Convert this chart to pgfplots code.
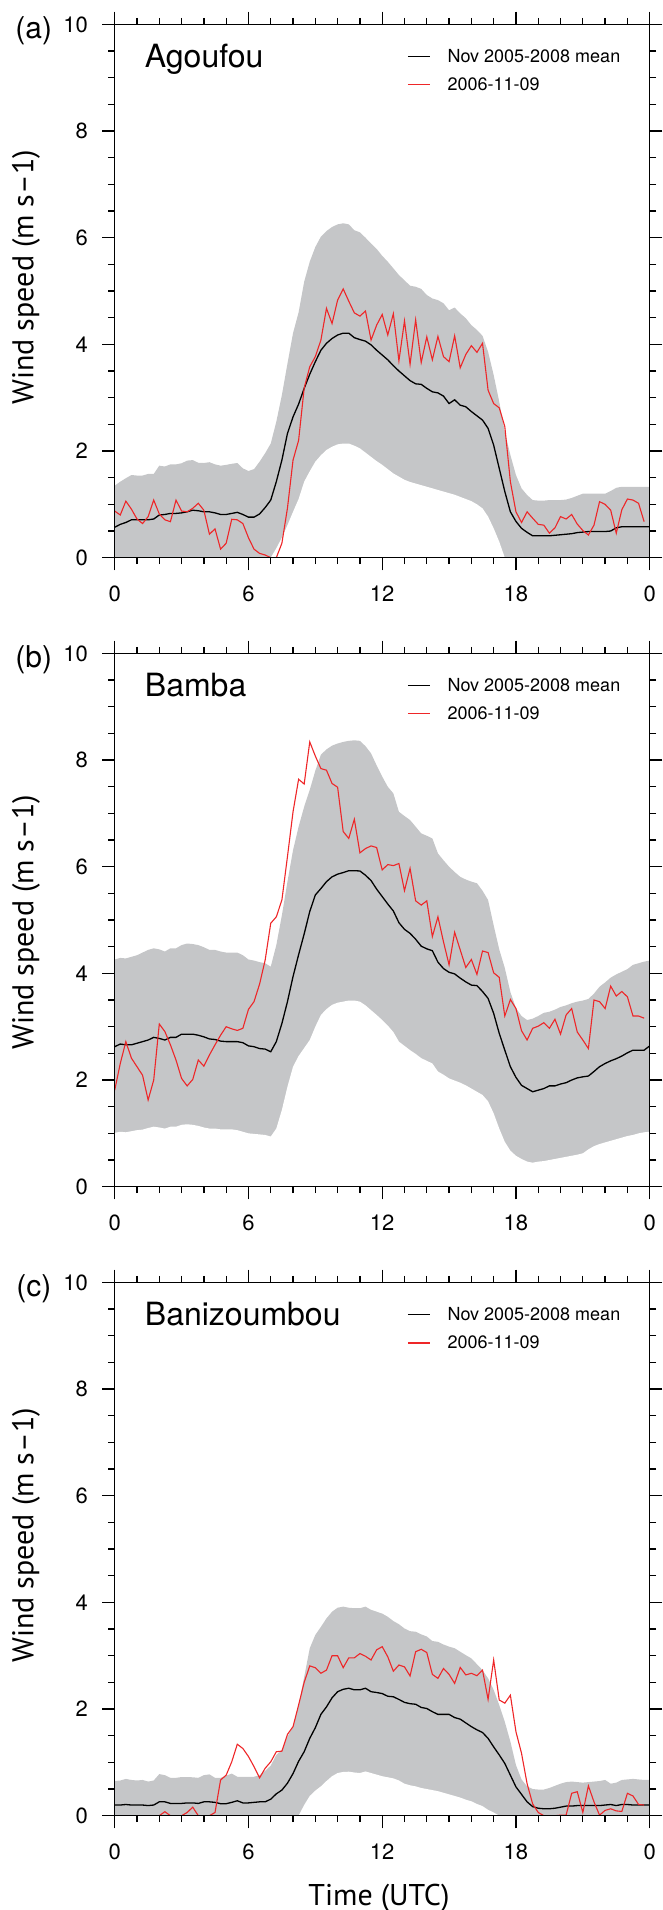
\documentclass[border=0pt]{standalone}
\usepackage{fontspec}
\setmainfont{TeX Gyre Heros}
\newfontfamily\labelfont{PT Sans}
\usepackage{pgfplots}
\pgfplotsset{compat=1.18}
\usepackage{pgfplotstable}
\definecolor{shade}{RGB}{197,198,200}
\definecolor{obsred}{RGB}{238,38,40}

\pgfplotstableread{
t up lo mean obs
0 1.35 0 0.57 0.875
0.25 1.425 0 0.625 0.80
0.5 1.49 0 0.66 1.06
0.75 1.55 0 0.71 0.91
1 1.54 0 0.71 0.725
1.25 1.54 0 0.71 0.64
1.5 1.57 0 0.71 0.77
1.75 1.57 0 0.725 1.08
2 1.725 0 0.80 0.82
2.25 1.71 0 0.81 0.71
2.5 1.75 0 0.83 0.675
2.75 1.75 0 0.83 1.08
3 1.77 0 0.84 0.875
3.25 1.82 0 0.86 0.86
3.5 1.83 0 0.89 0.925
3.75 1.78 0 0.88 1.02
4 1.775 0 0.86 0.89
4.25 1.79 0 0.86 0.44
4.5 1.75 0 0.84 0.54
4.75 1.725 0 0.81 0.16
5 1.74 0 0.81 0.27
5.25 1.76 0 0.83 0.72
5.5 1.775 0 0.85 0.71
5.75 1.675 0 0.81 0.64
6 1.625 0 0.76 0.375
6.25 1.66 0 0.76 0.16
6.5 1.8 0 0.82 0.08
6.75 1.96 0 0.94 0.05
7 2.14 0 1.08 0.0
7.25 2.55 0.175 1.425 0.0
7.5 3.05 0.375 1.83 0.27
7.75 3.64 0.61 2.33 0.93
8 4.21 0.86 2.64 1.83
8.25 4.6 1.1 2.88 2.2
8.5 5.175 1.425 3.175 3.18
8.75 5.55 1.62 3.44 3.58
9 5.825 1.8 3.675 3.77
9.25 6.02 1.92 3.89 4.08
9.5 6.125 2.02 4.02 4.675
9.75 6.2 2.08 4.11 4.39
10 6.25 2.125 4.175 4.83
10.25 6.27 2.14 4.21 5.04
10.5 6.25 2.14 4.21 4.81
10.75 6.14 2.1 4.125 4.59
11 6.1 2.05 4.09 4.53
11.25 6.0 1.97 4.06 4.625
11.5 5.89 1.89 3.99 4.08
11.75 5.79 1.81 3.89 4.36
12 5.66 1.74 3.8 4.56
12.25 5.55 1.66 3.71 4.175
12.5 5.425 1.58 3.6 4.575
12.75 5.3 1.52 3.5 3.69
13 5.2 1.46 3.41 4.44
13.25 5.1 1.42 3.32 3.625
13.5 5.08 1.39 3.26 4.46
13.75 5.04 1.36 3.25 3.66
14 4.925 1.33 3.175 4.14
14.25 4.86 1.3 3.11 3.71
14.5 4.83 1.27 3.09 4.15
14.75 4.77 1.24 3.03 3.77
15 4.64 1.21 2.89 3.675
15.25 4.69 1.18 2.96 4.16
15.5 4.58 1.14 2.86 3.56
15.75 4.49 1.1 2.83 3.81
16 4.36 1.06 2.74 3.975
16.25 4.27 1.0 2.66 3.85
16.5 4.16 0.925 2.58 4.02
16.75 3.86 0.77 2.425 3.14
17 3.425 0.55 2.11 2.89
17.25 2.925 0.3 1.675 2.81
17.5 2.36 0 1.24 2.46
17.75 1.925 0 0.86 1.425
18 1.55 0 0.68 0.86
18.25 1.3 0 0.55 0.66
18.5 1.175 0 0.475 0.86
18.75 1.08 0 0.41 0.74
19 1.07 0 0.41 0.625
19.25 1.07 0 0.41 0.61
19.5 1.08 0 0.41 0.46
19.75 1.08 0 0.42 0.56
20 1.08 0 0.43 0.77
20.25 1.09 0 0.44 0.725
20.5 1.12 0 0.45 0.81
20.75 1.16 0 0.47 0.63
21 1.2 0 0.48 0.51
21.25 1.2 0 0.49 0.425
21.5 1.2 0 0.49 0.61
21.75 1.2 0 0.49 1.05
22 1.2 0 0.49 1.0
22.25 1.25 0 0.5 0.89
22.5 1.31 0 0.56 0.46
22.75 1.33 0 0.58 0.9
23 1.33 0 0.58 1.1
23.25 1.33 0 0.58 1.08
23.5 1.33 0 0.58 1.02
23.75 1.33 0 0.58 0.675
24 1.33 0 0.58 0.675
}\tA

\pgfplotstableread{
t up lo mean obs
0 4.26 1.01 2.625 1.81
0.25 4.29 1.03 2.675 2.31
0.5 4.28 1.02 2.66 2.72
0.75 4.31 1.04 2.66 2.41
1 4.34 1.06 2.69 2.25
1.25 4.39 1.07 2.72 2.09
1.5 4.44 1.1 2.75 1.625
1.75 4.47 1.125 2.8 2.0
2 4.45 1.11 2.78 3.05
2.25 4.41 1.09 2.75 2.91
2.5 4.47 1.125 2.8 2.66
2.75 4.47 1.125 2.8 2.375
3 4.53 1.16 2.86 2.03
3.25 4.56 1.17 2.86 1.89
3.5 4.55 1.16 2.86 2.01
3.75 4.53 1.14 2.84 2.375
4 4.49 1.11 2.81 2.26
4.25 4.44 1.09 2.77 2.47
4.5 4.44 1.09 2.76 2.66
4.75 4.41 1.075 2.73 2.84
5 4.39 1.075 2.72 3.0
5.25 4.39 1.075 2.72 2.96
5.5 4.39 1.06 2.72 2.93
5.75 4.34 1.03 2.7 2.97
6 4.26 1.0 2.64 3.325
6.25 4.24 0.99 2.625 3.47
6.5 4.21 0.98 2.59 3.8
6.75 4.19 0.97 2.58 4.25
7 4.125 0.94 2.53 4.94
7.25 4.53 1.09 2.72 5.06
7.5 5.09 1.44 3.06 5.375
7.75 5.72 1.875 3.47 6.19
8 6.31 2.25 3.94 7.03
8.25 6.75 2.45 4.35 7.64
8.5 7.125 2.6 4.74 7.55
8.75 7.44 2.75 5.16 8.34
9 7.8 3.0 5.47 8.075
9.25 8.1 3.22 5.59 7.84
9.5 8.2 3.33 5.72 7.81
9.75 8.27 3.41 5.81 7.56
10 8.31 3.45 5.86 7.49
10.25 8.34 3.47 5.89 6.66
10.5 8.36 3.49 5.925 6.53
10.75 8.37 3.49 5.925 6.89
11 8.36 3.47 5.92 6.26
11.25 8.26 3.4 5.84 6.34
11.5 8.125 3.31 5.74 6.39
11.75 7.9 3.22 5.58 6.36
12 7.69 3.125 5.44 5.94
12.25 7.5 3.02 5.3 6.04
12.5 7.375 2.9 5.17 6.02
12.75 7.03 2.72 4.95 6.06
13 6.95 2.64 4.825 5.55
13.25 6.875 2.56 4.75 5.97
13.5 6.75 2.49 4.64 5.36
13.75 6.625 2.41 4.51 5.28
14 6.58 2.36 4.46 5.36
14.25 6.53 2.31 4.425 4.69
14.5 6.25 2.16 4.21 5.06
14.75 6.12 2.1 4.09 4.59
15 6.0 2.03 4.02 4.16
15.25 5.9 1.99 3.99 4.77
15.5 5.81 1.95 3.91 4.44
15.75 5.76 1.9 3.84 4.11
16 5.72 1.84 3.78 4.26
16.25 5.69 1.78 3.77 3.98
16.5 5.55 1.72 3.66 4.42
16.75 5.375 1.6 3.53 4.39
17 4.9 1.375 3.25 4.01
17.25 4.45 1.09 2.875 3.925
17.5 4.1 0.84 2.56 3.2
17.75 3.65 0.675 2.25 3.51
18 3.35 0.58 2.05 3.34
18.25 3.2 0.52 1.9 2.925
18.5 3.125 0.47 1.84 2.75
18.75 3.15 0.45 1.78 2.97
19 3.2 0.47 1.81 3.01
19.25 3.26 0.48 1.84 3.075
19.5 3.28 0.5 1.89 2.97
19.75 3.32 0.52 1.89 3.14
20 3.37 0.54 1.925 2.86
20.25 3.4 0.56 1.95 3.22
20.5 3.44 0.58 2.0 3.34
20.75 3.47 0.6 2.04 2.9
21 3.49 0.625 2.06 2.75
21.25 3.52 0.7 2.075 2.59
21.5 3.62 0.76 2.16 3.5
21.75 3.75 0.8 2.25 3.47
22 3.83 0.83 2.31 3.34
22.25 3.92 0.86 2.36 3.76
22.5 3.98 0.89 2.4 3.575
22.75 4.03 0.92 2.45 3.66
23 4.08 0.95 2.51 3.56
23.25 4.16 0.97 2.56 3.2
23.5 4.19 1.0 2.56 3.2
23.75 4.22 1.02 2.56 3.16
24 4.24 1.03 2.64 3.16
}\tB

\pgfplotstableread{
t up lo mean obs
0 0.65 0 0.2 0
0.25 0.66 0 0.2 0
0.5 0.69 0 0.21 0
0.75 0.67 0 0.2 0
1 0.66 0 0.2 0
1.25 0.67 0 0.2 0
1.5 0.64 0 0.19 0
1.75 0.66 0 0.2 0
2 0.78 0 0.26 0
2.25 0.76 0 0.26 0.075
2.5 0.71 0 0.23 0
2.75 0.71 0 0.23 0
3 0.725 0 0.23 0
3.25 0.725 0 0.24 0.06
3.5 0.72 0 0.24 0.16
3.75 0.71 0 0.23 0
4 0.76 0 0.26 0
4.25 0.775 0 0.26 0
4.5 0.71 0 0.25 0.06
4.75 0.71 0 0.225 0.67
5 0.75 0 0.225 0.76
5.25 0.79 0 0.25 1.01
5.5 0.73 0 0.28 1.34
5.75 0.73 0 0.24 1.26
6 0.73 0 0.24 1.11
6.25 0.73 0 0.25 0.92
6.5 0.76 0 0.26 0.71
6.75 0.84 0 0.26 0.89
7 0.94 0 0.31 1.01
7.25 1.14 0 0.41 1.2
7.5 1.23 0 0.48 1.21
7.75 1.48 0 0.61 1.525
8 1.67 0 0.79 1.67
8.25 2.075 0 1.02 2.075
8.5 2.6 0.2 1.2 2.5
8.75 3.14 0.37 1.45 2.81
9 3.39 0.47 1.65 2.775
9.25 3.54 0.55 1.9 2.67
9.5 3.7 0.65 2.04 2.73
9.75 3.825 0.74 2.21 3.0
10 3.9 0.8 2.325 3.0
10.25 3.92 0.82 2.37 2.775
10.5 3.9 0.825 2.39 2.96
10.75 3.89 0.81 2.36 2.96
11 3.89 0.8 2.36 3.04
11.25 3.92 0.83 2.39 2.99
11.5 3.86 0.8 2.325 2.92
11.75 3.825 0.77 2.31 3.11
12 3.79 0.74 2.29 3.17
12.25 3.73 0.72 2.24 2.98
12.5 3.65 0.7 2.23 2.71
12.75 3.59 0.66 2.18 2.825
13 3.51 0.6 2.125 2.79
13.25 3.46 0.57 2.1 2.62
13.5 3.45 0.55 2.09 3.075
13.75 3.4 0.52 2.03 3.12
14 3.36 0.5 2.01 3.06
14.25 3.275 0.48 1.95 2.65
14.5 3.26 0.46 1.9 2.575
14.75 3.21 0.43 1.9 2.76
15 3.17 0.4 1.9 2.65
15.25 3.14 0.37 1.84 2.48
15.5 3.075 0.34 1.81 2.78
15.75 3.01 0.3 1.74 2.64
16 2.95 0.27 1.67 2.67
16.25 2.84 0.22 1.61 2.625
16.5 2.73 0.18 1.56 2.73
16.75 2.575 0.11 1.45 2.18
17 2.36 0.06 1.29 2.92
17.25 2.075 0 1.14 2.17
17.5 1.76 0 0.98 2.11
17.75 1.39 0 0.76 2.26
18 0.95 0 0.54 1.575
18.25 0.68 0 0.4 1.17
18.5 0.55 0 0.26 0.6
18.75 0.5 0 0.17 0.22
19 0.49 0 0.14 0.06
19.25 0.49 0 0.13 0
19.5 0.52 0 0.13 0
19.75 0.56 0 0.14 0
20 0.6 0 0.16 0.01
20.25 0.63 0 0.18 0.01
20.5 0.64 0 0.18 0.42
20.75 0.63 0 0.19 0.45
21 0.62 0 0.19 0.06
21.25 0.63 0 0.19 0.56
21.5 0.64 0 0.19 0.26
21.75 0.65 0 0.19 0.01
22 0.67 0 0.2 0.1
22.25 0.6 0 0.21 0.13
22.5 0.62 0 0.19 0.09
22.75 0.67 0 0.21 0.08
23 0.68 0 0.21 0.42
23.25 0.69 0 0.2 0.37
23.5 0.68 0 0.2 0.21
23.75 0.67 0 0.2 0.2
24 0.67 0 0.2 0.2
}\tC

\tikzset{
  station/.style={anchor=base west, font=\fontsize{32}{32}\selectfont},
  plab/.style={anchor=center, font=\fontsize{30}{30}\selectfont},
}

\pgfplotsset{legend image code/.code={\draw[#1, line width=1.3pt] (0pt,0pt) -- (22pt,0pt);}}

\pgfplotsset{
  panel/.style={
    anchor=south west, scale only axis, width=535pt, height=533.3pt,
    xmin=0, xmax=24, ymin=0, ymax=10,
    xtick={0,6,12,18,24}, xticklabels={0,6,12,18,0},
    ytick={0,2,4,6,8,10}, yticklabels={0,2,4,6,8,10},
    minor x tick num=5, minor y tick num=3,
    tick align=outside, major tick length=12.7pt, minor tick length=6.5pt,
    tick style={black, line width=1.3pt},
    axis line style={black, line width=1.4pt},
    ticklabel style={font=\fontsize{22}{22}\selectfont},
    xticklabel style={yshift=-12pt},
    yticklabel style={xshift=-10.7pt},
    axis on top,
    ylabel={Wind speed (m s–1)},
    ylabel style={at={(axis description cs:-0.1658,0.526)}, anchor=center, font=\labelfont\fontsize{30}{30}\selectfont},
    legend cell align=left,
    legend style={at={(0.5408,0.9608)}, anchor=north west, draw=none, fill=none,
      row sep=9.6pt, font=\fontsize{18}{18}\selectfont,
      /tikz/every odd column/.append style={column sep=15pt}},
  },
}

\begin{document}
\begin{tikzpicture}
\useasboundingbox (0,0) rectangle (662pt,1910pt);

\begin{axis}[panel, at={(114.7pt,1352.3pt)}]
\addplot[fill=shade, draw=none, forget plot] table[x=t,y=up]{\tA} \closedcycle;
\addplot[fill=white, draw=none, forget plot] table[x=t,y=lo]{\tA} \closedcycle;
\addplot[black, line width=1.3pt] table[x=t,y=mean]{\tA};
\addlegendentry{Nov 2005-2008 mean}
\addplot[obsred, line width=1.1pt] table[x=t,y=obs, restrict x to domain=0:23.8]{\tA};
\addlegendentry{2006-11-09}
\node[station] at (rel axis cs:0.0499,0.9184) {Agoufou};
\end{axis}

\begin{axis}[panel, at={(114.7pt,723.3pt)},
  ylabel style={at={(axis description cs:-0.1658,0.496)}}]
\addplot[fill=shade, draw=none, forget plot] table[x=t,y=up]{\tB} \closedcycle;
\addplot[fill=white, draw=none, forget plot] table[x=t,y=lo]{\tB} \closedcycle;
\addplot[black, line width=1.3pt] table[x=t,y=mean]{\tB};
\addlegendentry{Nov 2005-2008 mean}
\addplot[obsred, line width=1.1pt] table[x=t,y=obs, restrict x to domain=0:23.8]{\tB};
\addlegendentry{2006-11-09}
\node[station] at (rel axis cs:0.0499,0.9184) {Bamba};
\end{axis}

\begin{axis}[panel, at={(114.7pt,94.3pt)},
  xlabel={Time (UTC)},
  xlabel style={at={(axis description cs:0.494,0)}, anchor=center, yshift=-82pt, font=\labelfont\fontsize{30}{30}\selectfont}]
\addplot[fill=shade, draw=none, forget plot] table[x=t,y=up]{\tC} \closedcycle;
\addplot[fill=white, draw=none, forget plot] table[x=t,y=lo]{\tC} \closedcycle;
\addplot[black, line width=1.3pt] table[x=t,y=mean]{\tC};
\addlegendentry{Nov 2005-2008 mean}
\addplot[obsred, line width=1.1pt] table[x=t,y=obs, restrict x to domain=0:23.8]{\tC};
\addlegendentry{2006-11-09}
\node[station] at (rel axis cs:0.0499,0.9184) {Banizoumbou};
\end{axis}

\node[plab] at (33.8pt,1879.2pt) {(a)};
\node[plab] at (33.8pt,1250.2pt) {(b)};
\node[plab] at (33.8pt,621.2pt) {(c)};
\end{tikzpicture}
\end{document}
